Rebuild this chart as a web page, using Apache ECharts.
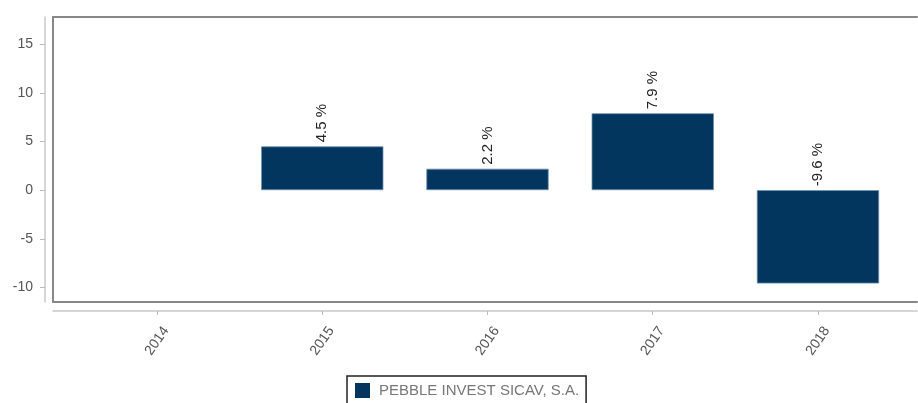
<!DOCTYPE html>
<html>
<head>
<meta charset="utf-8">
<style>
  html, body { margin: 0; padding: 0; background: #fff; }
  #returnChart { width: 918px; height: 403px; }
</style>
<script src="https://cdn.jsdelivr.net/npm/echarts@6.0.0/dist/echarts.min.js"></script>
</head>
<body>
<div id="returnChart"></div>
<script>
var years = ['2014', '2015', '2016', '2017', '2018'];
var returns = ['-', 4.5, 2.2, 7.9, -9.6];
var yTicks = [-10, -5, 0, 5, 10, 15];
var seriesName = 'PEBBLE INVEST SICAV, S.A.';

function Page() {
  var _this = this;
  _this.init();
}

Page.prototype = {

  init: function () {
    var _this = this
    _this.initReturnChart()
  },

  frameAxis: function (position, offset, color) {
    return {
      gridIndex: 0,
      type: 'category',
      data: years,
      position: position,
      offset: offset,
      axisLine: { show: true, onZero: false, lineStyle: { color: color, width: offset ? 1.5 : 2 } },
      axisTick: { show: false },
      axisLabel: { show: false }
    };
  },

  initReturnChart: function () {
    var _this = this
    var myChart = echarts.init(document.getElementById('returnChart'));

    var option = {
      animation: false,
      textStyle: {
        fontFamily: 'Liberation Sans, Arial, sans-serif'
      },
      legend: {
        data: [seriesName],
        left: 347,
        top: 376,
        padding: [7, 7, 7, 8],
        borderColor: '#222',
        borderWidth: 1.5,
        itemWidth: 15,
        itemHeight: 15,
        icon: 'rect',
        itemStyle: { borderWidth: 0 },
        textStyle: {
          fontSize: 15,
          color: '#777',
          padding: [0, 0, 0, 4]
        }
      },
      // grid 0 draws the open frame and the long light axis line, grid 1 holds the bars
      grid: [
        { left: 53, right: 1, top: 17, bottom: 101 },
        { left: 74.4, right: 17.4, top: 17, bottom: 101 }
      ],
      xAxis: [
        _this.frameAxis('top', 0, '#888'),
        _this.frameAxis('bottom', 0, '#888'),
        _this.frameAxis('bottom', 9, '#c8c8c8'),
        {
          gridIndex: 1,
          type: 'category',
          data: years,
          offset: 9,
          axisLine: { show: false, onZero: false },
          axisTick: { show: true, alignWithLabel: true, length: 4, lineStyle: { color: '#bbb' } },
          axisLabel: {
            rotate: 55,
            align: 'center',
            verticalAlign: 'middle',
            margin: 30,
            fontSize: 14,
            color: '#555'
          }
        }
      ],
      yAxis: [
        {
          gridIndex: 0,
          type: 'value',
          min: -11.5,
          max: 17.8,
          splitLine: { show: false },
          axisLine: { show: true, lineStyle: { color: '#888', width: 2 } },
          axisTick: { show: false },
          axisLabel: { show: false }
        },
        {
          gridIndex: 1,
          type: 'value',
          min: -11.5,
          max: 17.8,
          offset: 29.4,
          splitLine: { show: false },
          axisLine: { show: true, lineStyle: { color: '#c8c8c8', width: 1.5 } },
          axisTick: { show: true, length: 5, customValues: yTicks, lineStyle: { color: '#bbb' } },
          axisLabel: { customValues: yTicks, margin: 12, fontSize: 14, color: '#555' }
        }
      ],
      series: [
        {
          name: seriesName,
          type: 'bar',
          xAxisIndex: 3,
          yAxisIndex: 1,
          data: returns,
          barCategoryGap: '26%',
          itemStyle: { color: '#03365f', borderColor: '#6f8fae', borderWidth: 0.8 },
          label: {
            show: true,
            position: 'top',
            rotate: 90,
            align: 'left',
            verticalAlign: 'middle',
            distance: 4,
            fontSize: 15,
            color: '#222',
            formatter: function (p) {
              return p.value + ' %';
            }
          }
        }
      ]
    };

    myChart.setOption(option);
  }

}

var page = new Page();
</script>
</body>
</html>
